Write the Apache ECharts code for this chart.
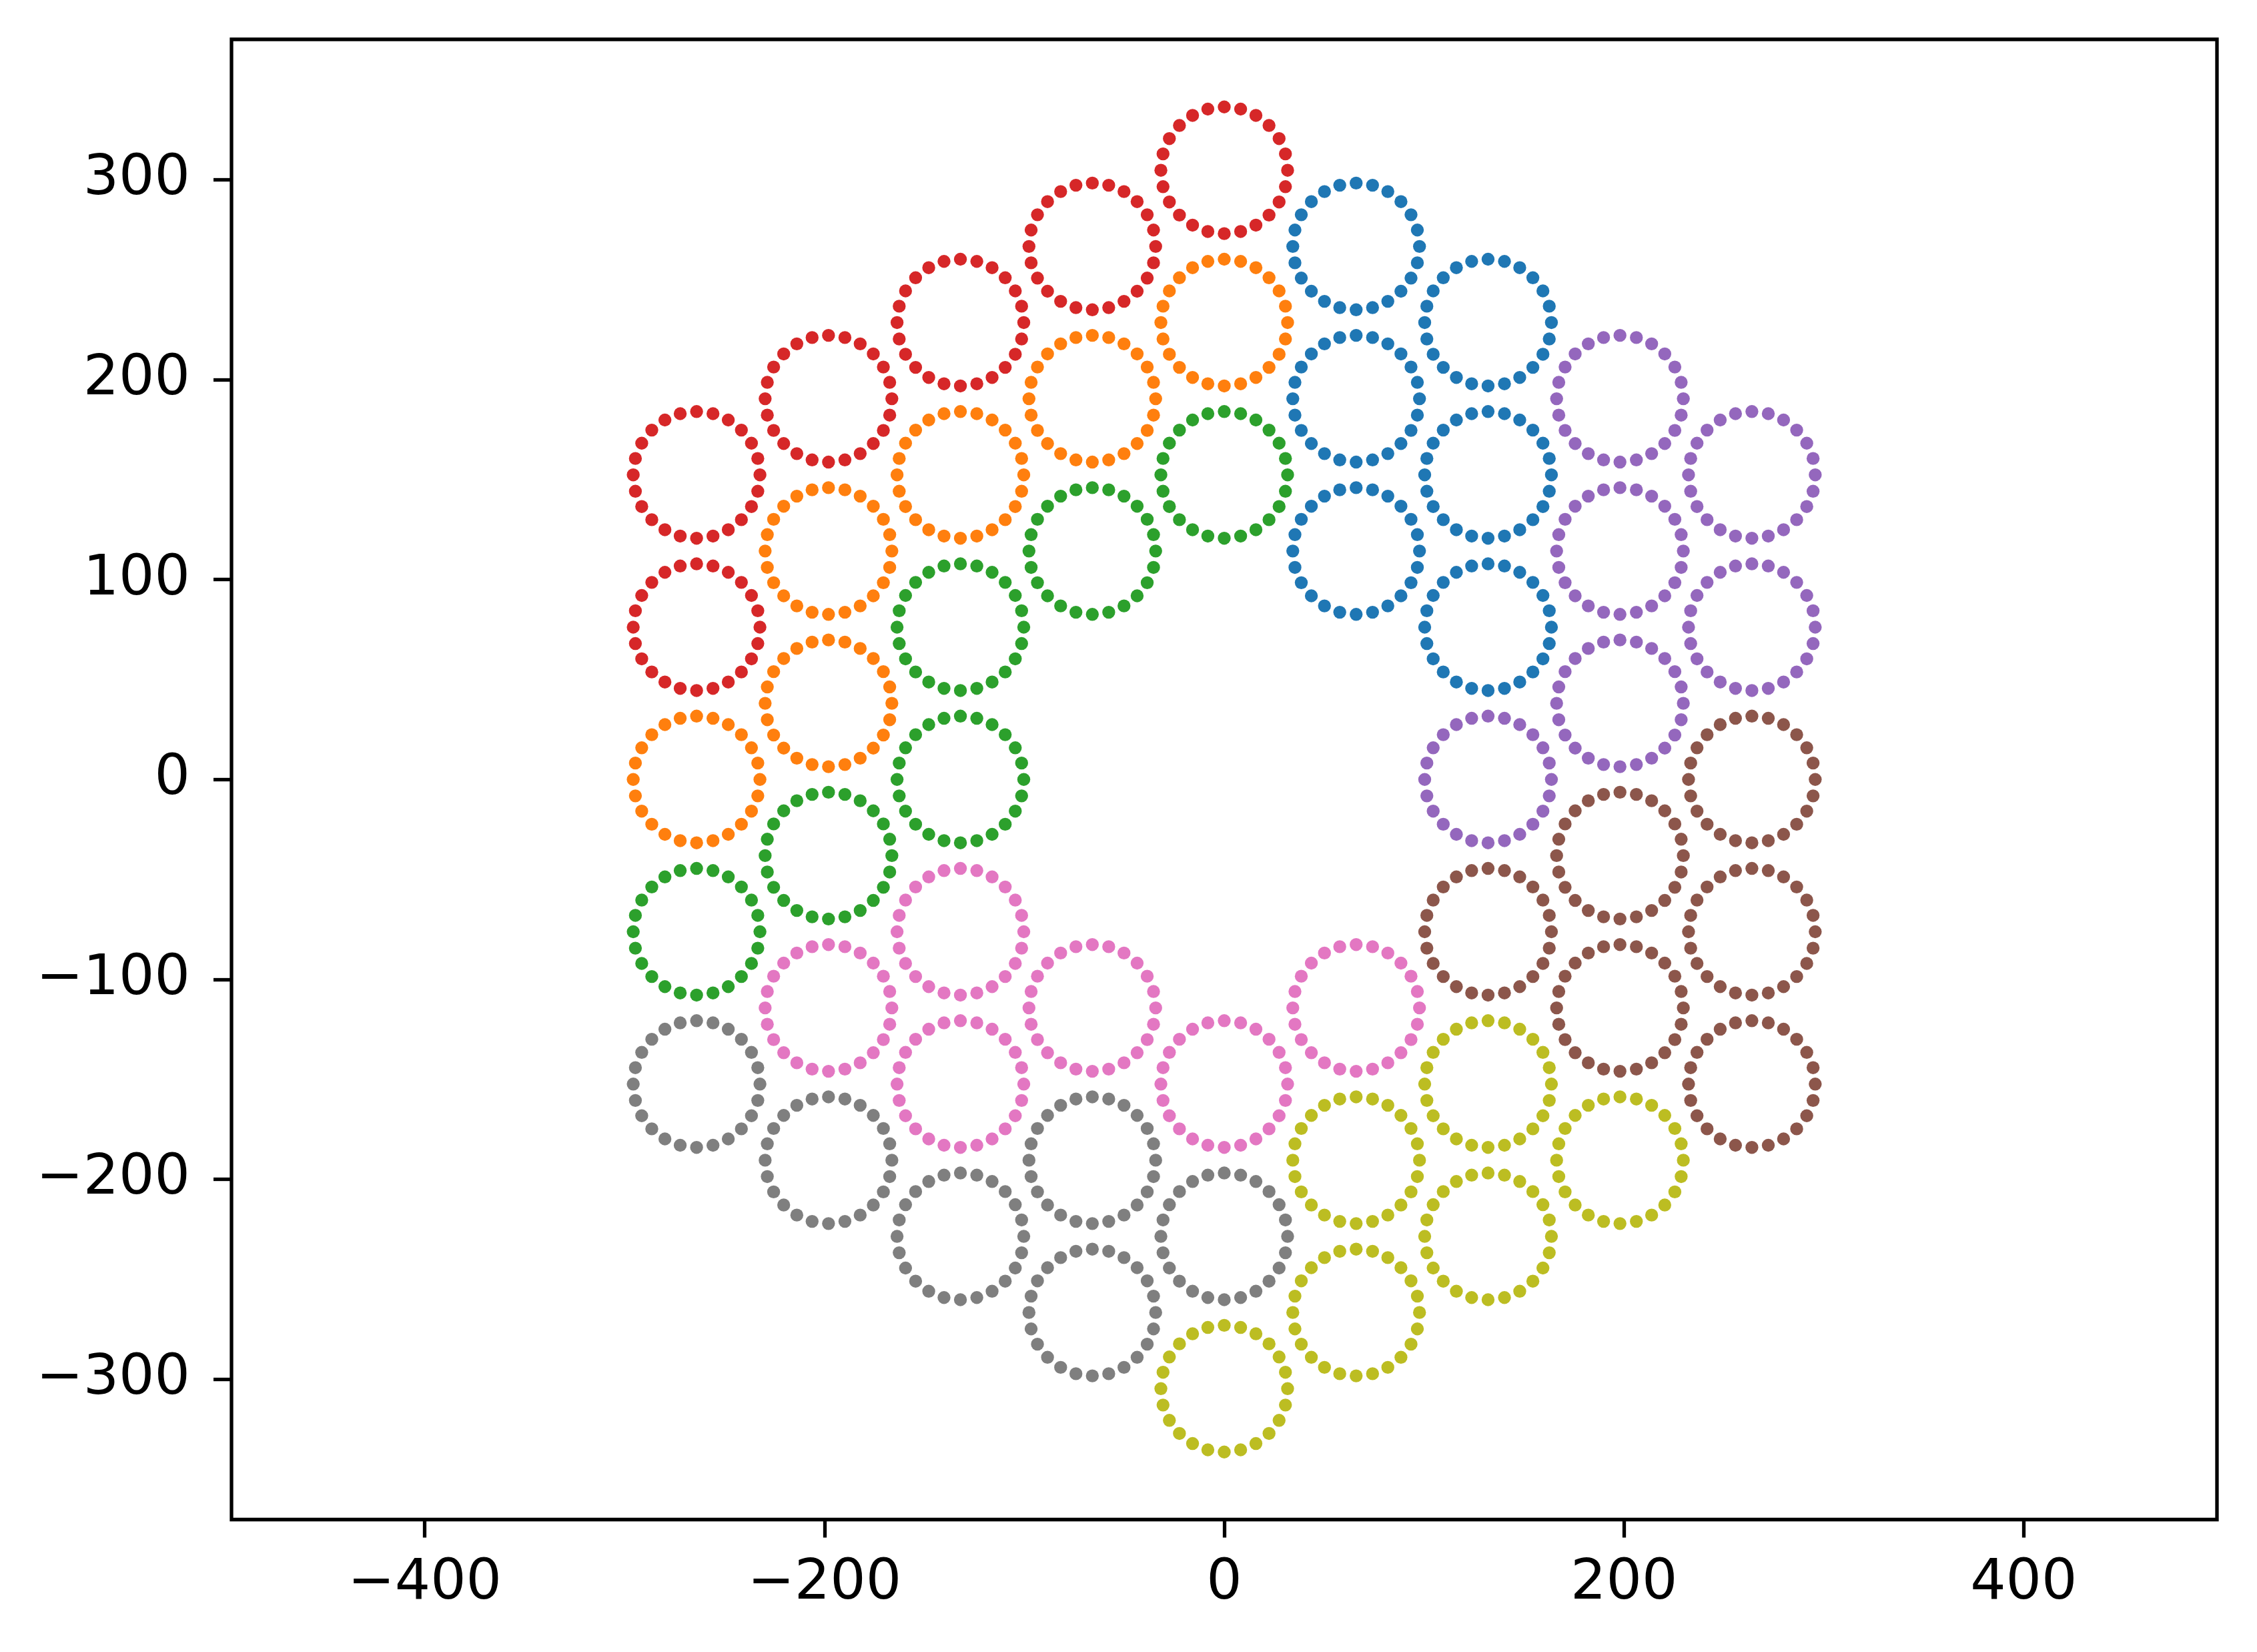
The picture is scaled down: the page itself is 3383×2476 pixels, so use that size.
<!DOCTYPE html>
<html>
<head>
<meta charset="utf-8">
<script src="https://cdn.jsdelivr.net/npm/echarts@6/dist/echarts.min.js"></script>
<style>
html, body { margin: 0; padding: 0; background: #ffffff; }
#chart { width: 3383px; height: 2476px; }
</style>
</head>
<body>
<div id="chart"></div>
<script>
// ---- data: circle centres (data units) ----
var circleRadius = 31.7;

var blueX   = [66.0, 132.0, 66.0, 132.0, 66.0, 132.0];
var blueY   = [266.7, 228.6, 190.5, 152.4, 114.3, 76.2];
var orangeX = [0, -66.0, -132.0, -198.0, -198.0, -264.0];
var orangeY = [228.6, 190.5, 152.4, 114.3, 38.1, 0];
var greenX  = [0, -66.0, -132.0, -132.0, -198.0, -264.0];
var greenY  = [152.4, 114.3, 76.2, 0, -38.1, -76.2];
var redX    = [0, -66.0, -132.0, -198.0, -264.0, -264.0];
var redY    = [304.8, 266.7, 228.6, 190.5, 152.4, 76.2];
var purpleX = [198.0, 264.0, 198.0, 264.0, 198.0, 132.0];
var purpleY = [190.5, 152.4, 114.3, 76.2, 38.1, 0];
var brownX  = [264.0, 198.0, 132.0, 264.0, 198.0, 264.0];
var brownY  = [0, -38.1, -76.2, -76.2, -114.3, -152.4];
var pinkX   = [-132.0, -198.0, -66.0, 66.0, -132.0, 0];
var pinkY   = [-76.2, -114.3, -114.3, -114.3, -152.4, -152.4];
var grayX   = [-264.0, -198.0, -132.0, -66.0, 0, -66.0];
var grayY   = [-152.4, -190.5, -228.6, -190.5, -228.6, -266.7];
var oliveX  = [132.0, 66.0, 198.0, 132.0, 66.0, 0];
var oliveY  = [-152.4, -190.5, -190.5, -228.6, -266.7, -304.8];

var xTicks = [-400, -200, 0, 200, 400];
var yTicks = [-300, -200, -100, 0, 100, 200, 300];

// ---- styling ----
var DOTS_PER_RING = 24;
var DOT_RADIUS = 9.7;
var FONT = 'DejaVu Sans';
var FONT_SIZE = 84;

var groups = [
  { name: 'blue',   color: '#1f77b4', xs: blueX,   ys: blueY },
  { name: 'orange', color: '#ff7f0e', xs: orangeX, ys: orangeY },
  { name: 'green',  color: '#2ca02c', xs: greenX,  ys: greenY },
  { name: 'red',    color: '#d62728', xs: redX,    ys: redY },
  { name: 'purple', color: '#9467bd', xs: purpleX, ys: purpleY },
  { name: 'brown',  color: '#8c564b', xs: brownX,  ys: brownY },
  { name: 'pink',   color: '#e377c2', xs: pinkX,   ys: pinkY },
  { name: 'gray',   color: '#7f7f7f', xs: grayX,   ys: grayY },
  { name: 'olive',  color: '#bcbd22', xs: oliveX,  ys: oliveY }
];

function minusFmt(v) {
  return String(v).replace('-', '\u2212');
}

function makeRenderItem(color) {
  return function (params, api) {
    var c = api.coord([api.value(0), api.value(1)]);
    var rx = api.size([api.value(2), 0])[0];
    var ry = api.size([0, api.value(2)])[1];
    var children = [];
    for (var k = 0; k < DOTS_PER_RING; k++) {
      var a = 2 * Math.PI * k / DOTS_PER_RING;
      children.push({
        type: 'circle',
        shape: { cx: c[0] + rx * Math.cos(a), cy: c[1] - ry * Math.sin(a), r: DOT_RADIUS },
        style: { fill: color }
      });
    }
    return { type: 'group', children: children };
  };
}

var series = groups.map(function (g) {
  return {
    type: 'custom',
    name: g.name,
    coordinateSystem: 'cartesian2d',
    renderItem: makeRenderItem(g.color),
    data: g.xs.map(function (x, i) { return [x, g.ys[i], circleRadius]; }),
    encode: { x: 0, y: 1 },
    clip: false,
    silent: true,
    animation: false
  };
});

var chart = echarts.init(document.getElementById('chart'), null, { renderer: 'canvas' });
chart.setOption({
  backgroundColor: '#ffffff',
  animation: false,
  grid: {
    left: 347, top: 59, right: 60, bottom: 198.5,
    show: true, borderColor: '#000000', borderWidth: 5.3, backgroundColor: 'transparent'
  },
  xAxis: {
    type: 'value',
    position: 'bottom',
    min: -496.7, max: 496.7,
    splitLine: { show: false },
    axisLine: { show: false, onZero: false },
    axisTick: { show: true, customValues: xTicks, length: 27, lineStyle: { color: '#000', width: 5.3 } },
    axisLabel: {
      customValues: xTicks, formatter: minusFmt, margin: 55,
      fontFamily: FONT, fontSize: FONT_SIZE, color: '#000'
    }
  },
  yAxis: {
    type: 'value',
    position: 'left',
    min: -370.3, max: 370.3,
    splitLine: { show: false },
    axisLine: { show: false, onZero: false },
    axisTick: { show: true, customValues: yTicks, length: 27, lineStyle: { color: '#000', width: 5.3 } },
    axisLabel: {
      customValues: yTicks, formatter: minusFmt, margin: 62,
      padding: [12, 0, 0, 0],
      fontFamily: FONT, fontSize: FONT_SIZE, color: '#000'
    }
  },
  series: series
});
</script>
</body>
</html>
